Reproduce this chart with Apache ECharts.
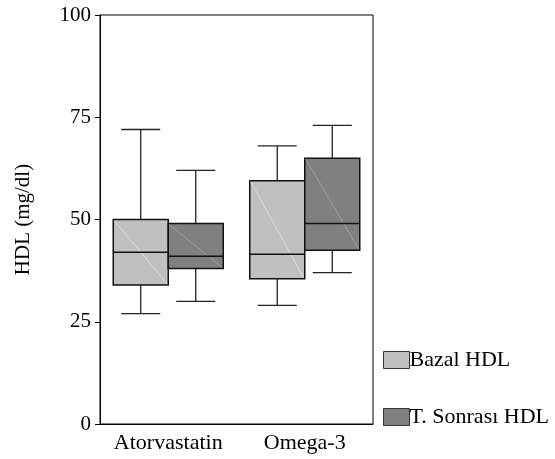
<!DOCTYPE html>
<html>
<head>
<meta charset="utf-8">
<script src="https://cdn.jsdelivr.net/npm/echarts@6/dist/echarts.min.js"></script>
<style>
  html, body { margin: 0; padding: 0; background: #fff; }
  #chart { width: 555px; height: 459px; }
</style>
</head>
<body>
<div id="chart"></div>
<script>
// categories on the x axis
var categories = ["Atorvastatin", "Omega-3"]
// legend / series names
var seriesNames = ["Bazal HDL", "T. Sonrası HDL"]
// box values per category: [min, Q1, median, Q3, max]
var bazalHDL = [
  [27, 34, 42, 50, 72],
  [29, 35.5, 41.5, 59.5, 68]
]
var sonrasiHDL = [
  [30, 38, 41, 49, 62],
  [37, 42.5, 49, 65, 73]
]
// y axis ticks
var yTicks = [0, 25, 50, 75, 100]

var font = "Liberation Serif"

// build [index, min, q1, med, q3, max] rows for the custom series
function toRows(list) {
  return list.map(function (v, i) {
    return [i].concat(v)
  })
}

// draw one box (side -1 = left half of category, 1 = right half)
function makeRender(side, stripe) {
  return function (params, api) {
    var idx = api.value(0)
    var center = api.coord([idx, 0])
    var band = api.size([1, 0])[0]
    var w = band * 0.403
    var xl = side < 0 ? center[0] - w : center[0]
    var xr = xl + w
    var xc = (xl + xr) / 2
    var cap = w * 0.355
    var y = []
    for (var k = 1; k <= 5; k++) {
      y.push(api.coord([idx, api.value(k)])[1])
    }
    var lineStyle = { stroke: "#222", lineWidth: 1.3 }
    return {
      type: "group",
      children: [
        // lower whisker + cap
        { type: "line", shape: { x1: xc, y1: y[0], x2: xc, y2: y[1] }, style: lineStyle },
        { type: "line", shape: { x1: xc - cap, y1: y[0], x2: xc + cap, y2: y[0] }, style: lineStyle },
        // upper whisker + cap
        { type: "line", shape: { x1: xc, y1: y[3], x2: xc, y2: y[4] }, style: lineStyle },
        { type: "line", shape: { x1: xc - cap, y1: y[4], x2: xc + cap, y2: y[4] }, style: lineStyle },
        // box
        {
          type: "rect",
          shape: { x: xl, y: y[3], width: w, height: y[1] - y[3] },
          style: { fill: api.visual("color"), stroke: "#111", lineWidth: 1.5 }
        },
        // faint diagonal
        {
          type: "line",
          shape: { x1: xl + 1, y1: y[3] + 1, x2: xr - 1, y2: y[1] - 1 },
          style: { stroke: stripe, lineWidth: 1 }
        },
        // median
        { type: "line", shape: { x1: xl, y1: y[2], x2: xr, y2: y[2] }, style: { stroke: "#111", lineWidth: 1.5 } }
      ]
    }
  }
}

var myChart = echarts.init(document.getElementById("chart"))

var option = {
  animation: false,
  backgroundColor: "#fff",
  textStyle: { fontFamily: font },
  grid: {
    left: 100,
    top: 15,
    right: 182,
    bottom: 35,
    show: true,
    borderColor: "#000",
    borderWidth: 1
  },
  legend: {
    orient: "vertical",
    left: 378,
    top: 344,
    itemWidth: 26,
    itemHeight: 17,
    itemGap: 35,
    icon: "rect",
    data: seriesNames,
    itemStyle: { borderColor: "#333", borderWidth: 1 },
    textStyle: { fontFamily: font, fontSize: 22, color: "#000", padding: [0, 0, 0, -5] }
  },
  xAxis: {
    type: "category",
    data: categories,
    axisLine: { lineStyle: { color: "#000", width: 1 } },
    axisTick: { alignWithLabel: true, interval: 0, length: 5, lineStyle: { color: "#000" } },
    axisLabel: { color: "#000", fontFamily: font, fontSize: 22, margin: 8, interval: 0, hideOverlap: false }
  },
  yAxis: {
    type: "value",
    min: 0,
    max: 100,
    interval: 25,
    name: "HDL (mg/dl)",
    nameLocation: "middle",
    nameGap: 66,
    nameTextStyle: { color: "#000", fontFamily: font, fontSize: 21 },
    axisLine: { show: true, lineStyle: { color: "#000", width: 1 } },
    axisTick: { show: true, length: 5, lineStyle: { color: "#000" } },
    axisLabel: {
      color: "#000",
      fontFamily: font,
      fontSize: 21,
      margin: 9,
      formatter: function (v) {
        return yTicks.indexOf(v) >= 0 ? String(v) : ""
      }
    },
    splitLine: { show: false }
  },
  series: [
    {
      name: seriesNames[0],
      type: "custom",
      renderItem: makeRender(-1, "rgba(225,225,225,0.8)"),
      itemStyle: { color: "#c0c0c0" },
      encode: { x: 0, y: [1, 2, 3, 4, 5] },
      data: toRows(bazalHDL)
    },
    {
      name: seriesNames[1],
      type: "custom",
      renderItem: makeRender(1, "rgba(165,165,165,0.8)"),
      itemStyle: { color: "#808080" },
      encode: { x: 0, y: [1, 2, 3, 4, 5] },
      data: toRows(sonrasiHDL)
    }
  ]
}

myChart.setOption(option)
</script>
</body>
</html>
